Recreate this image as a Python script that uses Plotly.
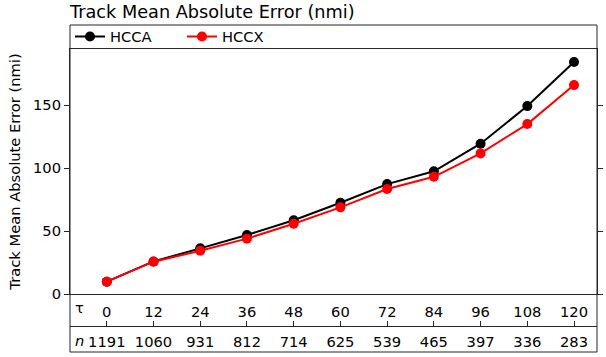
import plotly.graph_objects as go

tau = [0, 12, 24, 36, 48, 60, 72, 84, 96, 108, 120]
n_cases = [1191, 1060, 931, 812, 714, 625, 539, 465, 397, 336, 283]
hcca = [9.8, 25.9, 36.3, 46.9, 58.6, 72.6, 87.4, 97.6, 119.5, 149.4, 184.4]
hccx = [9.8, 25.7, 34.4, 44.0, 55.9, 68.9, 83.5, 93.2, 111.8, 135.1, 166.1]

W, H = 606, 357
L, R = 70, 597          # plot left/right px
TOP_BOX, TOP, BOT, MID, BOTTOM = 25, 49, 294, 326, 352

def py(y):
    return (H - y) / H

def px(x):
    return x / W

FONT = "DejaVu Sans"
AX = "#262626"
FS = 14.7

fig = go.Figure()
fig.add_trace(go.Scatter(x=tau, y=hcca, name="HCCA", mode="lines+markers",
                         line=dict(color="black", width=2),
                         marker=dict(color="black", size=10)))
fig.add_trace(go.Scatter(x=tau, y=hccx, name="HCCX", mode="lines+markers",
                         line=dict(color="#ff0000", width=2),
                         marker=dict(color="#ff0000", size=10)))
# invisible traces to activate the secondary x axes
fig.add_trace(go.Scatter(x=tau, y=[None]*len(tau), xaxis="x2", showlegend=False, hoverinfo="skip"))
fig.add_trace(go.Scatter(x=tau, y=[None]*len(tau), xaxis="x3", showlegend=False, hoverinfo="skip"))

xr = [-9.45, 125.9]
fig.update_layout(
    width=W, height=H,
    margin=dict(l=0, r=0, t=0, b=0, autoexpand=False),
    paper_bgcolor="white", plot_bgcolor="white",
    font=dict(family=FONT, size=FS, color="black"),
    title=dict(text="Track Mean Absolute Error (nmi)", x=px(L), xanchor="left",
               y=py(12), yanchor="middle", font=dict(size=17.7, family=FONT),
               automargin=False),
    showlegend=True,
    legend=dict(orientation="h", x=px(L), xanchor="left", y=py(37), yanchor="middle",
                font=dict(size=FS), bgcolor="rgba(0,0,0,0)", itemwidth=30,
                entrywidth=67, entrywidthmode="pixels", tracegroupgap=0),
    xaxis=dict(domain=[px(L), px(R)], range=xr, showgrid=False, zeroline=False,
               showline=True, mirror=True, linecolor=AX, linewidth=1,
               tickvals=tau, ticktext=[str(t) for t in tau], ticks="",
               ticklabelstandoff=4, tickfont=dict(size=FS), automargin=False),
    xaxis2=dict(domain=[px(L), px(R)], range=xr, overlaying="x", anchor="free",
                position=py(MID), side="top", showgrid=False, zeroline=False,
                showline=True, linecolor=AX, linewidth=1, tickvals=tau,
                ticks="outside", ticklen=5, tickcolor=AX, showticklabels=False,
                automargin=False),
    xaxis3=dict(domain=[px(L), px(R)], range=xr, overlaying="x", anchor="free",
                position=py(MID), side="bottom", showgrid=False, zeroline=False,
                showline=False, tickvals=tau, ticktext=[str(v) for v in n_cases],
                ticks="", ticklabelstandoff=5, tickfont=dict(size=FS), automargin=False),
    yaxis=dict(domain=[py(BOT), py(TOP)], range=[0, 194.8], showgrid=False,
               zeroline=False, showline=True, mirror="ticks", linecolor=AX,
               linewidth=1, ticks="outside", ticklen=5, tickcolor=AX,
               tickvals=[0, 50, 100, 150], tickfont=dict(size=FS), automargin=False,
               title=dict(text="Track Mean Absolute Error (nmi)", font=dict(size=FS), standoff=8)),
)

# frame around legend box and table
shapes = [
    dict(type="line", xref="paper", yref="paper", x0=px(L), x1=px(L), y0=py(TOP_BOX), y1=py(BOTTOM),
         line=dict(color=AX, width=1)),
    dict(type="line", xref="paper", yref="paper", x0=px(R), x1=px(R), y0=py(TOP_BOX), y1=py(BOTTOM),
         line=dict(color=AX, width=1)),
    dict(type="line", xref="paper", yref="paper", x0=px(L), x1=px(R), y0=py(TOP_BOX), y1=py(TOP_BOX),
         line=dict(color=AX, width=1)),
    dict(type="line", xref="paper", yref="paper", x0=px(L), x1=px(R), y0=py(BOTTOM), y1=py(BOTTOM),
         line=dict(color=AX, width=1)),
]
fig.update_layout(shapes=shapes)

fig.add_annotation(text="τ", xref="paper", yref="paper", x=px(79), y=py(307),
                   xanchor="center", yanchor="middle", showarrow=False, font=dict(size=FS))
fig.add_annotation(text="<i>n</i>", xref="paper", yref="paper", x=px(79), y=py(340),
                   xanchor="center", yanchor="middle", showarrow=False, font=dict(size=FS))

fig.write_html("out.html")
